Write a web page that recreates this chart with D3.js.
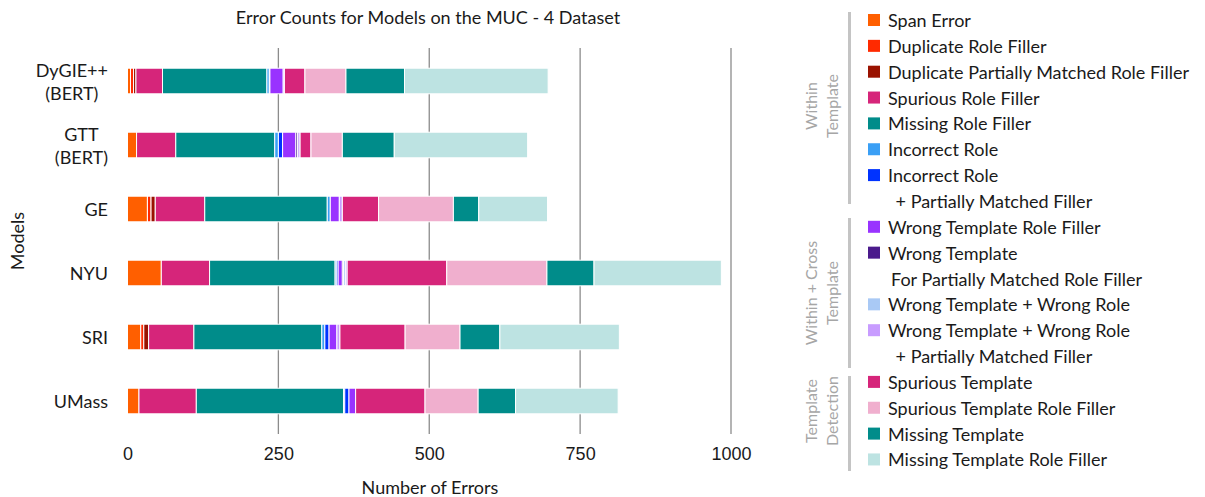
<!DOCTYPE html>
<html>
<head>
<meta charset="utf-8">
<script src="https://cdn.jsdelivr.net/npm/d3@7"></script>
<style>
  body { margin: 0; background: #fff; }
  svg { font-family: Lato, "Open Sans", sans-serif; }
</style>
</head>
<body>
<svg width="1205" height="497"></svg>
<script>
// models, top to bottom
const models = ["DyGIE++ (BERT)", "GTT (BERT)", "GE", "NYU", "SRI", "UMass"];

// one array per error type, same order as models
const spanError = [5, 15, 33, 56, 22, 19];
const duplicateRoleFiller = [5, 0, 6, 0, 5, 0];
const duplicatePartialFiller = [4, 0, 7, 0, 8, 0];
const spuriousRoleFiller = [44, 65, 82, 80, 75, 95];
const missingRoleFiller = [173, 164, 203, 208, 212, 244];
const incorrectRole = [4, 6, 5, 2, 5, 2];
const incorrectRolePartial = [1, 7, 0, 3, 7, 7];
const wrongTemplateRoleFiller = [22, 22, 15, 7, 13, 11];
const wrongTemplatePartial = [0, 3, 0, 2, 0, 0];
const wrongTemplateWrongRole = [0, 0, 0, 3, 0, 0];
const wrongTemplateWrongRolePartial = [2, 4, 5, 3, 5, 0];
const spuriousTemplate = [34, 18, 60, 165, 108, 115];
const spuriousTemplateRoleFiller = [68, 52, 124, 166, 91, 88];
const missingTemplate = [97, 86, 42, 78, 66, 62];
const missingTemplateRoleFiller = [238, 221, 114, 211, 198, 170];

const seriesValues = [spanError, duplicateRoleFiller, duplicatePartialFiller, spuriousRoleFiller,
  missingRoleFiller, incorrectRole, incorrectRolePartial, wrongTemplateRoleFiller, wrongTemplatePartial,
  wrongTemplateWrongRole, wrongTemplateWrongRolePartial, spuriousTemplate, spuriousTemplateRoleFiller,
  missingTemplate, missingTemplateRoleFiller];

// legend labels (extra lines are the wrapped continuation)
const seriesLabels = [
  ["Span Error"],
  ["Duplicate Role Filler"],
  ["Duplicate Partially Matched Role Filler"],
  ["Spurious Role Filler"],
  ["Missing Role Filler"],
  ["Incorrect Role"],
  ["Incorrect Role", " + Partially Matched Filler"],
  ["Wrong Template Role Filler"],
  ["Wrong Template", "For Partially Matched Role Filler"],
  ["Wrong Template + Wrong Role"],
  ["Wrong Template + Wrong Role", " + Partially Matched Filler"],
  ["Spurious Template"],
  ["Spurious Template Role Filler"],
  ["Missing Template"],
  ["Missing Template Role Filler"]
];
const seriesColors = ["#ff5f00", "#ff2a00", "#9a1200", "#d6257a", "#008c8a", "#3a9ff5", "#0033ff",
  "#9933ff", "#4b1a8c", "#a9c9f5", "#c89cff", "#d6257a", "#f0afce", "#008c8a", "#bde3e2"];

const xTicks = [0, 250, 500, 750, 1000];

const groups = [
  { lines: ["Within", "Template"], y0: 12, y1: 204, cy: 106 },
  { lines: ["Within + Cross", "Template"], y0: 218, y1: 368, cy: 293 },
  { lines: ["Template", "Detection"], y0: 376, y1: 471, cy: 411 }
];

const svg = d3.select("svg");
const textColor = "#1a1a1a";
const fs = 18;

const keys = seriesLabels.map((d, i) => "s" + i);
const rows = models.map((m, j) => {
  const r = { model: m };
  keys.forEach((k, i) => r[k] = seriesValues[i][j]);
  return r;
});
const stacked = d3.stack().keys(keys)(rows);

const x = d3.scaleLinear().domain([0, 1000]).range([127.5, 731]);
const y = d3.scaleBand().domain(models).range([49, 433]).paddingInner(0.6).paddingOuter(0.3);

// gridlines
svg.append("g").selectAll("line")
  .data(xTicks.filter(d => d > 0))
  .join("line")
  .attr("x1", d => x(d)).attr("x2", d => x(d))
  .attr("y1", 48).attr("y2", 434)
  .attr("stroke", "#8c8c8c").attr("stroke-width", 1.3);

// bars
svg.append("g").selectAll("g")
  .data(stacked)
  .join("g")
  .attr("fill", (d, i) => seriesColors[i])
  .selectAll("rect")
  .data(d => d.filter(p => p[1] - p[0] > 0))
  .join("rect")
  .attr("x", d => x(d[0]))
  .attr("width", d => x(d[1]) - x(d[0]))
  .attr("y", d => y(d.data.model))
  .attr("height", y.bandwidth())
  .attr("stroke", "#fff")
  .attr("stroke-width", 1);

// x axis
const xAxis = svg.append("g")
  .attr("transform", "translate(0,444)")
  .call(d3.axisBottom(x).tickValues(xTicks).tickSize(0).tickFormat(d3.format("d")));
xAxis.select(".domain").remove();
xAxis.selectAll("text").attr("font-size", fs).attr("fill", textColor).attr("font-family", null);

// y labels, wrapped in two lines where needed
svg.append("g").selectAll("g")
  .data(models)
  .join("g")
  .each(function (m) {
    const parts = m.includes(" (") ? [m.split(" (")[0], "(" + m.split(" (")[1]] : [m];
    const cy = y(m) + y.bandwidth() / 2;
    const t = d3.select(this).selectAll("text")
      .data(parts)
      .join("text")
      .attr("font-size", fs)
      .attr("fill", textColor)
      .attr("dominant-baseline", "central")
      .attr("y", (d, i) => cy + (i - (parts.length - 1) / 2) * 23)
      .text(d => d);
    let w = 0;
    t.each(function () { w = Math.max(w, this.getComputedTextLength()); });
    t.attr("text-anchor", "middle").attr("x", 108 - w / 2);
  });

// titles
svg.append("text").attr("x", 428).attr("y", 17).attr("text-anchor", "middle")
  .attr("dominant-baseline", "central").attr("font-size", fs).attr("fill", textColor)
  .text("Error Counts for Models on the MUC - 4 Dataset");
svg.append("text").attr("x", 430).attr("y", 487).attr("text-anchor", "middle")
  .attr("dominant-baseline", "central").attr("font-size", fs).attr("fill", textColor)
  .text("Number of Errors");
svg.append("text").attr("transform", "translate(17,241) rotate(-90)").attr("text-anchor", "middle")
  .attr("dominant-baseline", "central").attr("font-size", fs).attr("fill", textColor)
  .text("Models");

// legend
const rowH = 25.85;
let row = 0;
const legend = svg.append("g");
seriesLabels.forEach((lines, i) => {
  const ly = 20 + row * rowH;
  legend.append("rect").attr("x", 868).attr("y", ly - 6).attr("width", 12).attr("height", 12)
    .attr("fill", seriesColors[i]);
  lines.forEach((line, k) => {
    legend.append("text")
      .attr("x", k === 0 ? 888 : 891)
      .attr("y", ly + k * rowH)
      .attr("dominant-baseline", "central")
      .attr("font-size", fs).attr("fill", textColor)
      .attr("xml:space", "preserve")
      .text(line);
  });
  row += lines.length;
});

// legend groups
const grp = svg.append("g");
groups.forEach(g => {
  grp.append("line").attr("x1", 849.5).attr("x2", 849.5).attr("y1", g.y0).attr("y2", g.y1)
    .attr("stroke", "#c4c4c4").attr("stroke-width", 3);
  g.lines.forEach((line, k) => {
    grp.append("text")
      .attr("transform", `translate(${810 + k * 21},${g.cy}) rotate(-90)`)
      .attr("text-anchor", "middle").attr("dominant-baseline", "central")
      .attr("font-size", 16).attr("fill", "#a6a6a6")
      .text(line);
  });
});
</script>
</body>
</html>
